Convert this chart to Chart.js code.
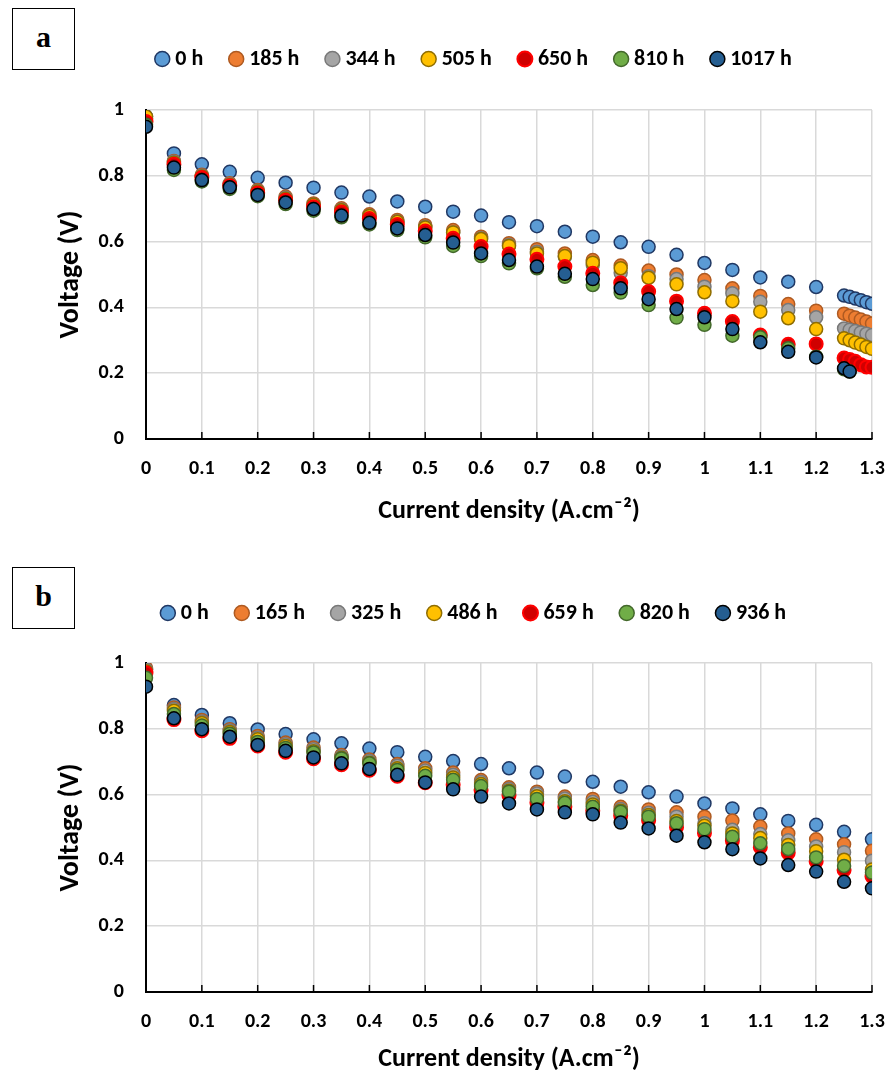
<!DOCTYPE html>
<html>
<head>
<meta charset="utf-8">
<script src="https://cdn.jsdelivr.net/npm/chart.js@4.4.1/dist/chart.umd.min.js"></script>
<style>
  html, body { margin: 0; padding: 0; background: #fff; overflow: hidden; }
  .panel { position: absolute; left: 0; width: 888px; }
  .tag { position: absolute; left: 12px; width: 61px; height: 60px; border: 1.5px solid #000;
         font: bold 30px 'Liberation Serif', 'Times New Roman', serif; text-align: center;
         line-height: 56px; background: #fff; }
</style>
</head>
<body>
<div class="panel" style="top:0;height:545px"><canvas id="chartA" width="888" height="545"></canvas></div>
<div class="panel" style="top:545px;height:530px"><canvas id="chartB" width="888" height="530"></canvas></div>
<div class="tag" style="top:8px">a</div>
<div class="tag" style="top:567px">b</div>
<script>
// current density (A/cm2)
const currentA = [0, 0.05, 0.1, 0.15, 0.2, 0.25, 0.3, 0.35, 0.4, 0.45, 0.5, 0.55, 0.6, 0.65, 0.7, 0.75,
  0.8, 0.85, 0.9, 0.95, 1, 1.05, 1.1, 1.15, 1.2, 1.25, 1.26, 1.27, 1.28, 1.29, 1.3]
const currentB = [0, 0.05, 0.1, 0.15, 0.2, 0.25, 0.3, 0.35, 0.4, 0.45, 0.5, 0.55, 0.6, 0.65, 0.7, 0.75,
  0.8, 0.85, 0.9, 0.95, 1, 1.05, 1.1, 1.15, 1.2, 1.25, 1.3]
const xTicks = [0, 0.1, 0.2, 0.3, 0.4, 0.5, 0.6, 0.7, 0.8, 0.9, 1, 1.1, 1.2, 1.3]
const yTicks = [0, 0.2, 0.4, 0.6, 0.8, 1]

// panel a
const hoursA = ['0 h', '185 h', '344 h', '505 h', '650 h', '810 h', '1017 h']
const voltA_0 = [0.98, 0.868, 0.835, 0.812, 0.794, 0.779, 0.764, 0.749, 0.737, 0.722, 0.706, 0.691, 0.679,
  0.659, 0.647, 0.630, 0.615, 0.598, 0.584, 0.560, 0.535, 0.514, 0.491, 0.478, 0.462,
  0.436, 0.432, 0.427, 0.422, 0.416, 0.411]
const voltA_185 = [0.975, 0.845, 0.803, 0.777, 0.757, 0.737, 0.716, 0.701, 0.683, 0.666, 0.650, 0.635, 0.615,
  0.595, 0.577, 0.564, 0.544, 0.527, 0.512, 0.500, 0.483, 0.458, 0.435, 0.410, 0.390,
  0.381, 0.375, 0.369, 0.363, 0.357, 0.351]
const voltA_344 = [0.975, 0.843, 0.800, 0.774, 0.754, 0.733, 0.712, 0.697, 0.678, 0.661, 0.645, 0.628, 0.610,
  0.590, 0.569, 0.554, 0.529, 0.505, 0.495, 0.486, 0.463, 0.443, 0.417, 0.392, 0.370,
  0.336, 0.332, 0.328, 0.324, 0.320, 0.316]
const voltA_505 = [0.98, 0.840, 0.798, 0.772, 0.752, 0.730, 0.712, 0.695, 0.678, 0.660, 0.643, 0.628, 0.608,
  0.587, 0.564, 0.556, 0.536, 0.519, 0.490, 0.470, 0.446, 0.419, 0.387, 0.367, 0.334,
  0.306, 0.300, 0.293, 0.287, 0.280, 0.274]
const voltA_650 = [0.965, 0.835, 0.795, 0.770, 0.748, 0.726, 0.706, 0.690, 0.670, 0.652, 0.632, 0.610, 0.585,
  0.562, 0.546, 0.524, 0.504, 0.475, 0.448, 0.419, 0.382, 0.357, 0.316, 0.288, 0.289,
  0.246, 0.242, 0.236, 0.226, 0.219, 0.218]
const voltA_810 = [0.955, 0.818, 0.783, 0.760, 0.738, 0.714, 0.694, 0.674, 0.652, 0.635, 0.613, 0.587, 0.556,
  0.534, 0.519, 0.493, 0.468, 0.445, 0.407, 0.369, 0.347, 0.314, 0.309, 0.276, 0.250,
  0.212, 0.205]
const voltA_1017 = [0.949, 0.825, 0.787, 0.765, 0.742, 0.719, 0.699, 0.679, 0.657, 0.640, 0.620, 0.597, 0.564,
  0.544, 0.524, 0.502, 0.486, 0.458, 0.425, 0.395, 0.370, 0.334, 0.294, 0.265, 0.248,
  0.215, 0.205]

// panel b
const hoursB = ['0 h', '165 h', '325 h', '486 h', '659 h', '820 h', '936 h']
const voltB_0 = [0.98, 0.872, 0.842, 0.817, 0.798, 0.784, 0.768, 0.756, 0.740, 0.729, 0.715, 0.702, 0.693,
  0.680, 0.667, 0.655, 0.639, 0.624, 0.607, 0.594, 0.573, 0.558, 0.540, 0.520, 0.508, 0.487, 0.464]
const voltB_165 = [0.985, 0.865, 0.827, 0.799, 0.778, 0.758, 0.743, 0.720, 0.707, 0.693, 0.680, 0.667, 0.644,
  0.622, 0.609, 0.594, 0.587, 0.563, 0.555, 0.546, 0.533, 0.521, 0.503, 0.482, 0.464, 0.449, 0.429]
const voltB_325 = [0.98, 0.860, 0.822, 0.795, 0.773, 0.753, 0.738, 0.716, 0.702, 0.688, 0.673, 0.660, 0.638,
  0.617, 0.603, 0.588, 0.578, 0.556, 0.545, 0.533, 0.513, 0.493, 0.480, 0.461, 0.442, 0.425, 0.399]
const voltB_486 = [0.975, 0.855, 0.818, 0.790, 0.768, 0.748, 0.732, 0.712, 0.697, 0.680, 0.666, 0.652, 0.632,
  0.612, 0.595, 0.580, 0.570, 0.551, 0.538, 0.520, 0.505, 0.482, 0.468, 0.447, 0.428, 0.402, 0.372]
const voltB_659 = [0.97, 0.828, 0.794, 0.771, 0.748, 0.729, 0.709, 0.691, 0.674, 0.656, 0.636, 0.630, 0.614,
  0.597, 0.575, 0.563, 0.551, 0.536, 0.521, 0.501, 0.483, 0.460, 0.440, 0.423, 0.397, 0.371, 0.351]
const voltB_820 = [0.955, 0.845, 0.810, 0.785, 0.760, 0.742, 0.728, 0.710, 0.695, 0.675, 0.657, 0.645, 0.626,
  0.609, 0.587, 0.575, 0.563, 0.548, 0.533, 0.513, 0.495, 0.472, 0.452, 0.435, 0.409, 0.383, 0.363]
const voltB_936 = [0.928, 0.832, 0.799, 0.776, 0.751, 0.733, 0.713, 0.695, 0.678, 0.660, 0.637, 0.616, 0.594,
  0.573, 0.555, 0.546, 0.540, 0.515, 0.497, 0.475, 0.455, 0.434, 0.406, 0.386, 0.366, 0.335, 0.315]

const fills = ['#5B9BD5', '#ED7D31', '#A5A5A5', '#FFC000', '#D00000', '#70AD47', '#255E91']
const edges = ['#203864', '#AE5A21', '#787878', '#8F6D00', '#FF0000', '#43682B', '#000000']

Chart.defaults.font.family = "Carlito, Lato, sans-serif"
Chart.defaults.color = '#000'

// small tick marks pointing up into the plot, like the original
const innerTicks = {
  id: 'innerTicks',
  beforeDatasetsDraw(chart) {
    const { ctx, chartArea } = chart
    const x = chart.scales.x
    ctx.save()
    ctx.strokeStyle = '#000'
    ctx.lineWidth = 1.5
    x.ticks.forEach(t => {
      const px = x.getPixelForValue(t.value)
      ctx.beginPath()
      ctx.moveTo(px, chartArea.bottom)
      ctx.lineTo(px, chartArea.bottom - 7)
      ctx.stroke()
    })
    ctx.restore()
  }
}

// extra room under the legend and a sideways nudge
const legendGap = {
  id: 'legendGap',
  beforeInit(chart, args, opts) {
    const fit = chart.legend.fit
    chart.legend.fit = function () {
      fit.call(this)
      this.height += opts.extra
    }
  },
  afterLayout(chart, args, opts) {
    chart.legend.left += opts.shift
    chart.legend.right += opts.shift
  }
}

function makeChart(id, names, xs, series, o) {
  const datasets = series.map((ys, i) => ({
    label: names[i],
    data: ys.map((y, j) => ({ x: xs[j], y: y })),
    backgroundColor: fills[i],
    borderColor: edges[i],
    borderWidth: i === 4 ? 2 : 1.5,
    pointRadius: 6.5,
    pointHoverRadius: 6.5,
    order: series.length - i
  }))

  return new Chart(document.getElementById(id), {
    type: 'scatter',
    data: { datasets },
    plugins: [innerTicks, legendGap],
    options: {
      responsive: false,
      animation: false,
      events: [],
      layout: { padding: { top: o.padTop, right: 16, left: 0, bottom: 0 } },
      plugins: {
        tooltip: { enabled: false },
        legendGap: { extra: o.legendExtra, shift: 40 },
        legend: {
          position: 'top',
          labels: {
            usePointStyle: true,
            pointStyle: 'circle',
            boxWidth: 4,
            boxHeight: 10.6,
            padding: 31,
            color: '#000',
            font: { size: 22, weight: 'bold' },
            sort: (a, b) => a.datasetIndex - b.datasetIndex
          }
        }
      },
      scales: {
        x: {
          type: 'linear',
          min: 0,
          max: 1.3,
          afterBuildTicks: s => { s.ticks = xTicks.map(v => ({ value: v })) },
          afterFit: s => { s.height = o.xHeight; s.paddingRight = 0; s.paddingLeft = 0 },
          grid: { color: '#D9D9D9', lineWidth: 1.5, drawTicks: false },
          border: { color: '#000', width: 2 },
          ticks: {
            padding: o.xTickPad,
            maxRotation: 0,
            autoSkip: false,
            font: { size: 20, weight: 'bold' },
            callback: v => String(v)
          },
          title: {
            display: true,
            text: 'Current density (A.cm⁻²)',
            font: { size: 26, weight: 'bold' },
            padding: { top: 0, bottom: o.xTitlePad }
          }
        },
        y: {
          min: 0,
          max: 1,
          afterBuildTicks: s => { s.ticks = yTicks.map(v => ({ value: v })) },
          afterFit: s => { s.width = 146 },
          grid: { color: '#D9D9D9', lineWidth: 1.5, drawTicks: false },
          border: { color: '#000', width: 2 },
          ticks: {
            padding: 22,
            font: { size: 20, weight: 'bold' },
            callback: v => String(v)
          },
          title: {
            display: true,
            text: 'Voltage (V)',
            font: { size: 28, weight: 'bold' },
            padding: { top: 54, bottom: 0 }
          }
        }
      }
    }
  })
}

makeChart('chartA', hoursA, currentA,
  [voltA_0, voltA_185, voltA_344, voltA_505, voltA_650, voltA_810, voltA_1017],
  { padTop: 17, legendExtra: 30, xHeight: 106, xTickPad: 18, xTitlePad: 18 })

makeChart('chartB', hoursB, currentB,
  [voltB_0, voltB_165, voltB_325, voltB_486, voltB_659, voltB_820, voltB_936],
  { padTop: 26, legendExtra: 29, xHeight: 83, xTickPad: 18, xTitlePad: 0 })
</script>
</body>
</html>
